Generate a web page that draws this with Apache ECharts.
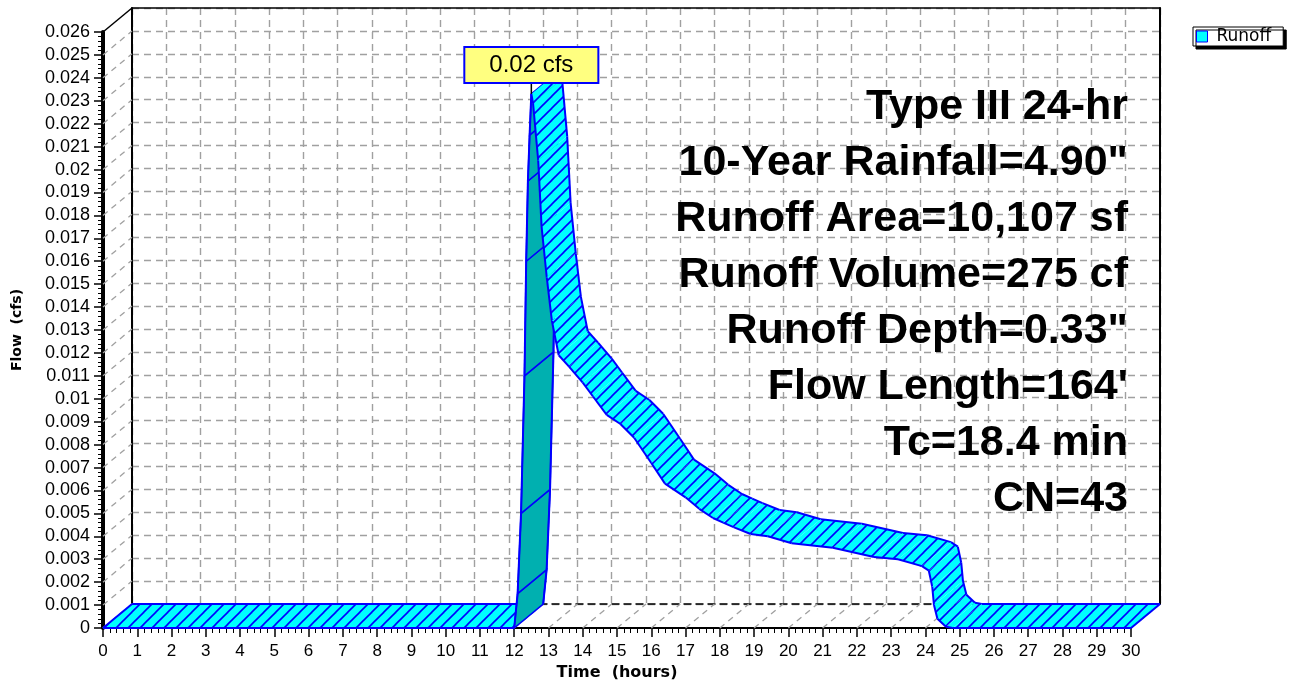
<!DOCTYPE html>
<html><head><meta charset="utf-8">
<script src="https://cdn.jsdelivr.net/npm/echarts@6/dist/echarts.min.js"></script>
<style>html,body{margin:0;padding:0;background:#fff}#c{width:1294px;height:682px}</style>
</head><body><div id="c"></div>
<script>
// ---- data ----
const seriesName = 'Runoff';
const times = [0, 12.0, 12.1, 12.2, 12.3, 12.35, 12.4, 12.45, 12.5, 12.55, 12.7, 12.8, 12.95, 13.1, 13.3, 13.6, 14.0, 14.3, 14.7, 15.1, 15.5, 16.0, 16.4, 17.0, 17.4, 17.8, 18.1, 18.4, 18.9, 19.4, 20.1, 21.3, 22.5, 23.2, 23.9, 24.1, 24.2, 24.25, 24.35, 24.6, 24.8, 30];
const flows = [0, 0, 0.0015, 0.0050, 0.0110, 0.0160, 0.0195, 0.0215, 0.0233, 0.0229, 0.0204, 0.0175, 0.0153, 0.0134, 0.0119, 0.0114, 0.0107, 0.0101, 0.0093, 0.0089, 0.0083, 0.0072, 0.0063, 0.0057, 0.0052, 0.0048, 0.0046, 0.0044, 0.0041, 0.0040, 0.0037, 0.0035, 0.0031, 0.0030, 0.0027, 0.0025, 0.0018, 0.0010, 0.0004, 0.00005, 0, 0];
const xTicks = [0,1,2,3,4,5,6,7,8,9,10,11,12,13,14,15,16,17,18,19,20,21,22,23,24,25,26,27,28,29,30];
const yTicks = [0,0.001,0.002,0.003,0.004,0.005,0.006,0.007,0.008,0.009,0.01,0.011,0.012,0.013,0.014,0.015,0.016,0.017,0.018,0.019,0.02,0.021,0.022,0.023,0.024,0.025,0.026];
const xName = 'Time  (hours)';
const yName = 'Flow  (cfs)';
const peakUnit = ' cfs';
const noteLines = ['Type III 24-hr', '10-Year Rainfall=4.90"', 'Runoff Area=10,107 sf', 'Runoff Volume=275 cf', 'Runoff Depth=0.33"', "Flow Length=164'", 'Tc=18.4 min', 'CN=43'];

// ---- styling ----
const FONT = "'Liberation Sans', Arial, sans-serif";
const FONT2 = "'DejaVu Sans', Verdana, sans-serif";
const OX = 29, OY = -24;           // depth offset of the 3D back plane (px)
const BLUE = '#0000FF', CYAN = '#00FFFF', TEAL = '#00B0B0';
const GRIDC = '#A0A0A0';

const hatchCanvas = document.createElement('canvas');
hatchCanvas.width = 12; hatchCanvas.height = 12;
(function(){
  const g = hatchCanvas.getContext('2d');
  g.fillStyle = CYAN; g.fillRect(0,0,12,12);
  g.strokeStyle = BLUE; g.lineWidth = 1.6;
  for (const d of [-12, 0, 12]) {
    g.beginPath(); g.moveTo(d - 1, 13); g.lineTo(d + 13, -1); g.stroke();
  }
})();
const hatch = { image: hatchCanvas, repeat: 'repeat' };

const xMin = xTicks[0], xMax = xTicks[xTicks.length-1];
const yMin = yTicks[0], yMax = yTicks[yTicks.length-1];
const xStep = xTicks[1]-xTicks[0], yStep = yTicks[1]-yTicks[0];

let peakIdx = 0;
flows.forEach((v,i)=>{ if (v > flows[peakIdx]) peakIdx = i; });

function ribbonItem(params, api) {
  const i = params.dataIndex;
  const p0 = api.coord([times[i], flows[i]]);
  const b0 = [p0[0]+OX, p0[1]+OY];
  const kids = [];
  if (i < times.length - 1) {
    const p1 = api.coord([times[i+1], flows[i+1]]);
    const b1 = [p1[0]+OX, p1[1]+OY];
    const sx = p1[0]-p0[0], sy = p1[1]-p0[1];
    const backFace = sx*OY - sy*OX > 0;
    kids.push({type:'polygon', shape:{points:[p0,p1,b1,b0]},
      style:{fill: backFace ? TEAL : hatch, stroke: backFace ? BLUE : 'none', lineWidth: 1.5}});
    kids.push({type:'line', shape:{x1:p0[0],y1:p0[1],x2:p1[0],y2:p1[1]}, style:{stroke:BLUE, lineWidth:2}});
    kids.push({type:'line', shape:{x1:b0[0],y1:b0[1],x2:b1[0],y2:b1[1]}, style:{stroke:BLUE, lineWidth:2}});
  }
  if (i === 0 || i === times.length-1) {
    kids.push({type:'line', shape:{x1:p0[0],y1:p0[1],x2:b0[0],y2:b0[1]}, style:{stroke:BLUE, lineWidth:2}});
  }
  return {type:'group', children:kids};
}

function depthLine(params, api) {
  const p = api.coord([api.value(0), api.value(1)]);
  const isTop = api.value(1) === yMax && api.value(0) === xMin && params.seriesName === 'ywall';
  return {type:'line', shape:{x1:p[0], y1:p[1], x2:p[0]+OX, y2:p[1]+OY},
    style: isTop ? {stroke:'#000', lineWidth:1.5} : {stroke:GRIDC, lineWidth:1.3, lineDash:[6,5]}};
}

function peakLabel(params, api) {
  const p = api.coord([api.value(0), api.value(1)]);
  return {type:'group', children:[
    {type:'line', z2:100, shape:{x1:p[0], y1:p[1], x2:p[0], y2:p[1]-12}, style:{stroke:'#000', lineWidth:1.5}},
    {type:'text', z2:101, x:p[0], y:p[1]-12, style:{
      text: flows[peakIdx].toFixed(2) + peakUnit, fontFamily:FONT, fontSize:24, fill:'#000',
      align:'center', verticalAlign:'bottom', backgroundColor:'#FFFF80',
      borderColor:BLUE, borderWidth:2, padding:[5,24,5,24]}}
  ]};
}

const chart = echarts.init(document.getElementById('c'), null, {renderer:'canvas'});
const backAxisCommon = {min:xMin, max:xMax, interval:xStep};
chart.setOption({
  animation:false,
  backgroundColor:'#fff',
  legend:{
    data:[{name:seriesName, icon:'rect'}], left:1193, top:27, padding:[1,12,1,3],
    itemWidth:11, itemHeight:11, itemGap:0,
    backgroundColor:'#fff', borderColor:'#000', borderWidth:1,
    shadowColor:'#000', shadowBlur:0, shadowOffsetX:3, shadowOffsetY:3,
    itemStyle:{color:CYAN, borderColor:BLUE, borderWidth:1},
    textStyle:{fontSize:17, fontFamily:FONT2, color:'#000', padding:[0,0,0,4]}
  },
  grid:[
    {left:103, top:32, width:1028, height:596, containLabel:false, outerBoundsMode:'none'},
    {left:103+OX, top:32+OY, width:1028, height:596, containLabel:false, outerBoundsMode:'none'}
  ],
  xAxis:[
    {gridIndex:0, type:'value', min:xMin, max:xMax, interval:xStep,
     name:xName, nameLocation:'middle', nameGap:34,
     nameTextStyle:{fontFamily:FONT2, fontWeight:'bold', fontSize:16, color:'#000'},
     axisLine:{show:true, onZero:false, lineStyle:{color:'#000', width:2}},
     axisTick:{show:true, inside:false, length:9, lineStyle:{color:'#000', width:1.5}},
     minorTick:{show:true, splitNumber:5, length:5, lineStyle:{color:'#000', width:1}},
     axisLabel:{show:true, margin:15, fontFamily:FONT, fontSize:17, color:'#000'},
     splitLine:{show:false}},
    {gridIndex:1, type:'value', ...backAxisCommon, position:'bottom',
     axisLine:{show:true, onZero:false, lineStyle:{color:'#000', width:1.5, type:[7,5]}},
     axisTick:{show:false}, axisLabel:{show:false},
     splitLine:{show:true, lineStyle:{color:GRIDC, width:1.4, type:[7,5]}}},
    {gridIndex:1, type:'value', ...backAxisCommon, position:'top',
     axisLine:{show:true, onZero:false, lineStyle:{color:'#000', width:1.5}},
     axisTick:{show:false}, axisLabel:{show:false}, splitLine:{show:false}}
  ],
  yAxis:[
    {gridIndex:0, type:'value', min:yMin, max:yMax, interval:yStep,
     name:yName, nameLocation:'middle', nameGap:79, nameRotate:90,
     nameTextStyle:{fontFamily:FONT2, fontWeight:'bold', fontSize:14, color:'#000'},
     axisLine:{show:true, onZero:false, lineStyle:{color:'#000', width:4}},
     axisTick:{show:true, inside:false, length:9, lineStyle:{color:'#000', width:1.5}},
     minorTick:{show:true, splitNumber:5, length:5, lineStyle:{color:'#000', width:1}},
     axisLabel:{show:true, margin:13, fontFamily:FONT, fontSize:18, color:'#000'},
     splitLine:{show:false}},
    {gridIndex:1, type:'value', min:yMin, max:yMax, interval:yStep, position:'left',
     axisLine:{show:true, onZero:false, lineStyle:{color:'#000', width:2}},
     axisTick:{show:false}, axisLabel:{show:false},
     splitLine:{show:true, lineStyle:{color:GRIDC, width:1.4, type:[7,5]}}},
    {gridIndex:1, type:'value', min:yMin, max:yMax, interval:yStep, position:'right',
     axisLine:{show:true, onZero:false, lineStyle:{color:'#000', width:2}},
     axisTick:{show:false}, axisLabel:{show:false}, splitLine:{show:false}}
  ],
  graphic:[{
    type:'text', right:1294-1128, top:79, z:50,
    style:{text:noteLines.join('\n'), fontFamily:FONT, fontWeight:'bold', fontSize:43,
      lineHeight:56, fill:'#000', textAlign:'right'}
  }],
  series:[
    {name:'xwall', type:'custom', xAxisIndex:0, yAxisIndex:0, clip:false, silent:true, z:1,
     data: xTicks.map(t=>[t, yMin]), encode:{x:0,y:1}, renderItem:depthLine},
    {name:'ywall', type:'custom', xAxisIndex:0, yAxisIndex:0, clip:false, silent:true, z:1,
     data: yTicks.map(v=>[xMin, v]), encode:{x:0,y:1}, renderItem:depthLine},
    {name:seriesName, type:'custom', xAxisIndex:0, yAxisIndex:0, clip:false, silent:true, z:5,
     itemStyle:{color:CYAN, borderColor:BLUE, borderWidth:1},
     data: times.map((t,i)=>[t, flows[i]]), encode:{x:0,y:1}, renderItem:ribbonItem},
    {name:'peak', type:'custom', xAxisIndex:0, yAxisIndex:0, clip:false, silent:true, z:20,
     data:[[times[peakIdx], flows[peakIdx]]], encode:{x:0,y:1}, renderItem:peakLabel}
  ]
});
</script></body></html>
